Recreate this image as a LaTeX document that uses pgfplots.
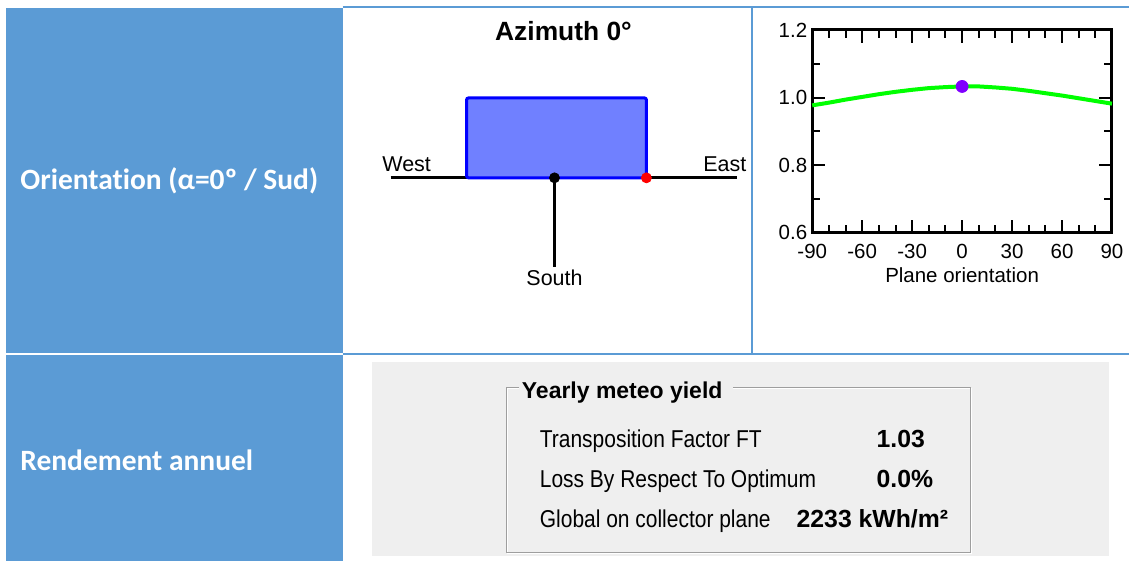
\documentclass[border=0pt]{standalone}
\usepackage{fontspec}
\setmainfont{Liberation Sans}
\newfontfamily\carlito[Ligatures={NoCommon}]{Carlito}
\newfontfamily\narrow[FakeStretch=0.86]{Liberation Sans}
\usepackage{pgfplots}
\pgfplotsset{compat=1.18}
\definecolor{cellblue}{HTML}{5B9BD5}
\definecolor{panelgray}{HTML}{EFEFEF}
\definecolor{rectfill}{RGB}{112,128,255}
\definecolor{curvegreen}{RGB}{0,255,0}
\definecolor{dotpurple}{RGB}{128,0,255}
\begin{document}
\begin{tikzpicture}
\begin{scope}[x=0.5pt,y=-0.5pt]
\useasboundingbox (0,0) rectangle (1130,562);
% table cells
\fill[cellblue] (6,8) rectangle (343,353);
\fill[cellblue] (6,355) rectangle (343,562);
\draw[cellblue, line width=1pt] (343,7) -- (1130,7);
\draw[cellblue, line width=1pt] (343,354) -- (1130,354);
\draw[cellblue, line width=1pt] (753,7) -- (753,354);
\node[anchor=base west, inner sep=0, text=white, font=\carlito\bfseries\fontsize{14.75}{17}\selectfont] at (20,190) {Orientation (α=0º / Sud)};
\node[anchor=base west, inner sep=0, text=white, font=\carlito\bfseries\fontsize{14.75}{17}\selectfont] at (20,471) {Rendement annuel};
% bottom panel
\fill[panelgray] (372,362) rectangle (1110,557);
\draw[white, line width=0.5pt] (508,389) rectangle (972,554);
\draw[black!38, line width=0.5pt] (507,388) rectangle (971,553);
\fill[panelgray] (519,378) rectangle (734,398);
\node[anchor=base west, inner sep=0, font=\bfseries\fontsize{11.5}{14}\selectfont] at (522,399) {Yearly meteo yield};
\node[anchor=base west, inner sep=0, font=\narrow\fontsize{12.2}{14}\selectfont] at (540,448) {Transposition Factor FT};
\node[anchor=base west, inner sep=0, font=\narrow\fontsize{12.2}{14}\selectfont] at (540,488) {Loss By Respect To Optimum};
\node[anchor=base west, inner sep=0, font=\narrow\fontsize{12.2}{14}\selectfont] at (540,528) {Global on collector plane};
\node[anchor=base west, inner sep=0, font=\bfseries\fontsize{12.4}{14}\selectfont] at (877,448) {1.03};
\node[anchor=base west, inner sep=0, font=\bfseries\fontsize{12.4}{14}\selectfont] at (877,488) {0.0\%};
\node[anchor=base west, inner sep=0, font=\bfseries\fontsize{12.4}{14}\selectfont] at (797,528) {2233 kWh/m²};
\end{scope}
% azimuth diagram
\begin{axis}[at={(172.5pt,-176pt)}, anchor=south west, width=203.5pt, height=172pt,
  scale only axis, xmin=345, xmax=752, ymin=8, ymax=352, y dir=reverse,
  hide axis, clip=false]
\addplot[draw=black, line width=1.5pt] coordinates {(391,178) (738,178)};
\addplot[draw=black, line width=1.5pt] coordinates {(555,178) (555,267)};
\addplot[draw=blue, fill=rectfill, line width=1.5pt, rounded corners=1pt] coordinates {(467,98) (647,98) (647,178) (467,178)} -- cycle;
\addplot[only marks, mark=*, mark size=2.5pt, black] coordinates {(555,178)};
\addplot[only marks, mark=*, mark size=2.5pt, red, mark options={draw=red}] coordinates {(647,178)};
\node[anchor=base, inner sep=0, font=\bfseries\fontsize{13.2}{15}\selectfont] at (axis cs:564,40.5) {Azimuth 0°};
\node[anchor=base, inner sep=0, font=\fontsize{10.75}{13}\selectfont] at (axis cs:407,172) {West};
\node[anchor=base, inner sep=0, font=\fontsize{10.75}{13}\selectfont] at (axis cs:725.5,172) {East};
\node[anchor=base, inner sep=0, font=\fontsize{10.75}{13}\selectfont] at (axis cs:555,286) {South};
\end{axis}
% transposition chart
\begin{axis}[at={(406.5pt,-116.5pt)}, anchor=south west, width=150pt, height=101.5pt,
  scale only axis, xmin=-90, xmax=90, ymin=0.6, ymax=1.2,
  xtick={-90,-60,-30,0,30,60,90}, xticklabels={-90,-60,-30,0,30,60,90},
  ytick={0.6,0.8,1.0,1.2}, yticklabels={0.6,0.8,1.0,1.2},
  minor xtick={-80,-70,-50,-40,-20,-10,10,20,40,50,70,80},
  minor ytick={0.7,0.9,1.1},
  xtick pos=both, ytick pos=both, xticklabel pos=left, yticklabel pos=left,
  tick align=inside, major tick length=6.5pt, minor tick length=4pt,
  axis line style={line width=1.5pt},
  every tick/.style={black, line width=1pt},
  ticklabel style={font=\fontsize{10.25}{12}\selectfont},
  xticklabel style={yshift=-2pt},
  yticklabel style={xshift=1pt},
  xlabel={Plane orientation},
  xlabel style={font=\fontsize{10.25}{12}\selectfont, inner sep=0pt, yshift=-1pt},
  clip=false]
\addplot[curvegreen, line width=2pt] coordinates {
(-90,0.977) (-80,0.985) (-70,0.994) (-60,1.002) (-50,1.010) (-40,1.017)
(-30,1.023) (-20,1.028) (-10,1.031) (0,1.033) (10,1.033) (20,1.030)
(30,1.026) (40,1.020) (50,1.013) (60,1.006) (70,0.998) (80,0.990) (90,0.982)};
\addplot[only marks, mark=*, mark size=3pt, dotpurple, mark options={draw=dotpurple}] coordinates {(0,1.033)};
\end{axis}
\end{tikzpicture}
\end{document}
